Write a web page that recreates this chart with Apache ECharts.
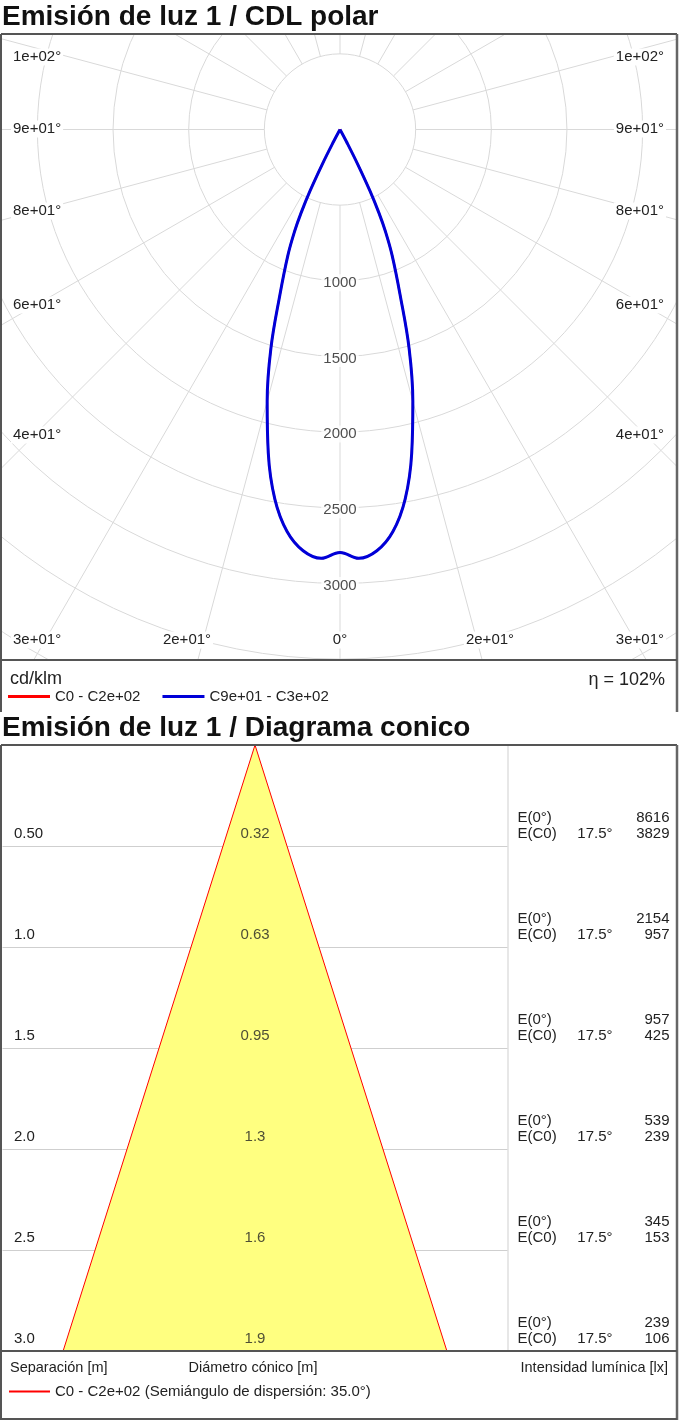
<!DOCTYPE html>
<html><head><meta charset="utf-8">
<script src="https://cdn.jsdelivr.net/npm/echarts@6/dist/echarts.min.js"></script>
<style>
html,body{margin:0;padding:0;background:#fff;}
#top{position:absolute;left:0;top:0;width:679px;height:712px;}
#bot{position:absolute;left:0;top:712px;width:679px;height:710px;}
</style>
</head><body><div id="top"></div><div id="bot"></div>
<script>
// ---------- Polar (CDL) data ----------
const gammaDeg      = [0, 2.5, 5, 7.5, 10, 12.5, 15, 17.5, 20, 22.5, 24, 25, 26, 27, 28, 30];
const intensityC90  = [2795, 2837, 2795, 2680, 2480, 2190, 1860, 1520, 1160, 900, 740, 610, 450, 260, 90, 0];
const intensityC270 = [2795, 2837, 2795, 2680, 2480, 2190, 1860, 1520, 1160, 900, 740, 610, 450, 260, 90, 0];
const intensityC0   = [2795, 2837, 2795, 2680, 2480, 2190, 1860, 1520, 1160, 900, 740, 610, 450, 260, 90, 0];
const intensityC180 = [2795, 2837, 2795, 2680, 2480, 2190, 1860, 1520, 1160, 900, 740, 610, 450, 260, 90, 0];
const radialTickLabels = [1000, 1500, 2000, 2500, 3000];
const seriesNames = ['C0 - C2e+02', 'C9e+01 - C3e+02'];
const unitLabel = 'cd/klm';
const etaLabel = 'η = 102%';

// ---------- Conic diagram data ----------
const distances      = [0.5, 1.0, 1.5, 2.0, 2.5, 3.0];
const distanceLabels = ['0.50', '1.0', '1.5', '2.0', '2.5', '3.0'];
const diameters      = [0.32, 0.63, 0.95, 1.3, 1.6, 1.9];
const diameterLabels = ['0.32', '0.63', '0.95', '1.3', '1.6', '1.9'];
const illumCenter    = [8616, 2154, 957, 539, 345, 239];
const illumC0        = [3829, 957, 425, 239, 153, 106];
const halfAngleText  = '17.5°';
const coneLegend     = 'C0 - C2e+02 (Semiángulo de dispersión: 35.0°)';

const FONT = '"Liberation Sans", Arial, Helvetica, sans-serif';
const GRID_COLOR = '#d9d9d9';
const FRAME = '#555';

function curve(left, right) {
  const pts = [];
  for (let i = right.length - 1; i >= 0; i--) pts.push([right[i], -gammaDeg[i]]);
  for (let i = 1; i < left.length; i++) pts.push([left[i], gammaDeg[i]]);
  return pts;
}

// ================= TOP: polar =================
const topChart = echarts.init(document.getElementById('top'), null, {renderer: 'canvas'});
const CX = 340, CY = 129.5, R_OUT = 680.9, R_IN = 75.65;

function txt(text, x, y, opts) {
  return Object.assign({
    type: 'text', z: 60,
    style: Object.assign({text: text, x: x, y: y, fill: '#222', font: '15px ' + FONT,
      align: 'left', verticalAlign: 'middle'}, opts || {})
  });
}
function line(x1, y1, x2, y2, color, w, z) {
  return {type: 'line', z: z || 60, shape: {x1, y1, x2, y2},
    style: {stroke: color, lineWidth: w}};
}
const angleLabelStyle = {backgroundColor: '#fff', padding: [1, 2]};
const angleLabelsLeft  = ['1e+02°', '9e+01°', '8e+01°', '6e+01°', '4e+01°', '3e+01°'];
const angleLabelsBottom = ['2e+01°', '0°', '2e+01°'];
const angleLabelsRight = ['3e+01°', '4e+01°', '6e+01°', '8e+01°', '9e+01°', '1e+02°'];
const leftY = [57, 129, 211, 305, 435, 640];
const rightY = [640, 435, 305, 211, 129, 57];
const bottomX = [187, 340, 490];

const topGraphics = [
  {type: 'rect', z: 50, shape: {x: 0, y: 0, width: 679, height: 34}, style: {fill: '#fff'}},
  {type: 'rect', z: 50, shape: {x: 0, y: 660, width: 679, height: 60}, style: {fill: '#fff'}},
  {type: 'rect', z: 50, shape: {x: 0, y: 0, width: 1, height: 712}, style: {fill: '#fff'}},
  {type: 'rect', z: 50, shape: {x: 677, y: 0, width: 2, height: 712}, style: {fill: '#fff'}},
  txt('Emisión de luz 1 / CDL polar', 2, 17, {font: 'bold 28px ' + FONT, fill: '#111'}),
  line(1, 34, 677, 34, FRAME, 2),
  line(1, 34, 1, 712, FRAME, 2),
  line(677, 34, 677, 712, '#666', 2.5),
  line(1, 660, 677, 660, FRAME, 2),
  txt(unitLabel, 10, 679, {font: '18px ' + FONT}),
  txt(etaLabel, 665, 680, {font: '18px ' + FONT, align: 'right'})
];
angleLabelsLeft.forEach((t, i) => topGraphics.push(txt(t, 11, leftY[i], Object.assign({z: 55}, angleLabelStyle))));
angleLabelsBottom.forEach((t, i) => topGraphics.push(txt(t, bottomX[i], 640, Object.assign({align: 'center'}, angleLabelStyle))));
angleLabelsRight.forEach((t, i) => topGraphics.push(txt(t, 666, rightY[i], Object.assign({align: 'right'}, angleLabelStyle))));

topChart.setOption({
  animation: false,
  textStyle: {fontFamily: FONT},
  polar: [
    {center: [CX, CY], radius: [R_IN, R_OUT]},
    {center: [CX, CY], radius: [0, R_OUT]}
  ],
  angleAxis: [
    {polarIndex: 0, type: 'value', min: -180, max: 180, interval: 15, startAngle: 90, clockwise: true,
      axisLine: {show: false}, axisTick: {show: false}, axisLabel: {show: false},
      splitLine: {show: true, lineStyle: {color: GRID_COLOR, width: 1}}},
    {polarIndex: 1, type: 'value', min: -180, max: 180, startAngle: 90, clockwise: true,
      axisLine: {show: false}, axisTick: {show: false}, axisLabel: {show: false}, splitLine: {show: false}}
  ],
  radiusAxis: [
    {polarIndex: 0, type: 'value', min: 500, max: 4500, interval: 500,
      axisLine: {show: false}, axisTick: {show: false}, axisLabel: {show: false},
      splitLine: {show: true, lineStyle: {color: GRID_COLOR, width: 1}}},
    {polarIndex: 1, type: 'value', min: 0, max: 4500,
      axisLine: {show: false}, axisTick: {show: false}, axisLabel: {show: false}, splitLine: {show: false}}
  ],
  legend: {
    z: 100, left: 8, top: 689, padding: 0, itemWidth: 42, itemHeight: 3, itemGap: 22, icon: 'rect',
    textStyle: {fontSize: 15, color: '#222', fontFamily: FONT},
    data: seriesNames
  },
  graphic: topGraphics,
  series: [
    {name: seriesNames[0], type: 'line', coordinateSystem: 'polar', polarIndex: 1,
      showSymbol: false, smooth: 0.4, color: '#ff0000',
      lineStyle: {color: '#ff0000', width: 2}, data: curve(intensityC0, intensityC180)},
    {name: seriesNames[1], type: 'line', coordinateSystem: 'polar', polarIndex: 1,
      showSymbol: false, smooth: 0.4, color: '#0000d8',
      lineStyle: {color: '#0000d8', width: 3}, data: curve(intensityC270, intensityC90)},
    {name: 'radial labels', type: 'scatter', coordinateSystem: 'polar', polarIndex: 1,
      symbolSize: 0, silent: true, z: 5,
      data: radialTickLabels.map(r => [r, 0]),
      label: {show: true, position: 'inside', offset: [0, 2], formatter: p => String(p.value[0]),
        fontSize: 15, color: '#222', backgroundColor: '#fff', padding: [1, 2], fontFamily: FONT}}
  ]
});

// ================= BOTTOM: conic diagram =================
const botChart = echarts.init(document.getElementById('bot'), null, {renderer: 'canvas'});
const idxOf = v => distances.findIndex(d => Math.abs(d - v) < 1e-6);
const last = distances.length - 1;
const triX = [0, -diameters[last] / 2, diameters[last] / 2];
const triY = [0, distances[last], distances[last]];

const botGraphics = [
  txt('Emisión de luz 1 / Diagrama conico', 2, 16, {font: 'bold 28px ' + FONT, fill: '#111'}),
  line(508, 33, 508, 639, '#cfcfcf', 1, 40),
  line(1, 33, 677, 33, FRAME, 2),
  line(1, 33, 1, 708, FRAME, 2),
  line(677, 33, 677, 708, '#666', 2.5),
  line(1, 707, 677, 707, FRAME, 2),
  line(1, 639, 677, 639, FRAME, 2),
  txt('Separación [m]', 10, 656, {font: '14.5px ' + FONT}),
  txt('Diámetro cónico [m]', 253, 656, {font: '14.5px ' + FONT, align: 'center'}),
  txt('Intensidad lumínica [lx]', 668, 656, {font: '14.5px ' + FONT, align: 'right'})
];

const richBase = {fontSize: 15, lineHeight: 16, color: '#222', fontFamily: FONT};
botChart.setOption({
  animation: false,
  textStyle: {fontFamily: FONT},
  grid: {left: 2.5, right: 171.5, top: 33, bottom: 71, outerBoundsMode: 'none', containLabel: false},
  xAxis: {type: 'value', min: -1.25, max: 1.25, show: false},
  yAxis: [
    {type: 'value', min: 0, max: 3, interval: 0.5, inverse: true, position: 'left',
      axisLine: {show: false}, axisTick: {show: false},
      splitLine: {show: true, lineStyle: {color: '#cfcfcf', width: 1}},
      axisLabel: {inside: true, margin: 11.5, verticalAlign: 'bottom', padding: [0, 0, 4, 0],
        showMinLabel: true, showMaxLabel: true, fontSize: 15, lineHeight: 17, color: '#222',
        formatter: v => { const i = idxOf(v); return i < 0 ? '' : distanceLabels[i]; }}},
    {type: 'value', min: 0, max: 3, interval: 0.5, inverse: true, position: 'right',
      axisLine: {show: false}, axisTick: {show: false}, splitLine: {show: false},
      axisLabel: {margin: 10, verticalAlign: 'bottom', padding: [0, 0, 4, 0], lineHeight: 16,
        showMinLabel: true, showMaxLabel: true,
        formatter: v => {
          const i = idxOf(v);
          if (i < 0) return '';
          return '{a|E(0°)}{b| }{c|' + illumCenter[i] + '}\n{a|E(C0)}{b|' + halfAngleText + '}{c|' + illumC0[i] + '}';
        },
        rich: {
          a: Object.assign({width: 58, align: 'left'}, richBase),
          b: Object.assign({width: 37, align: 'right'}, richBase),
          c: Object.assign({width: 57, align: 'right'}, richBase)
        }}}
  ],
  legend: {
    left: 9, top: 672, padding: 0, itemWidth: 41, itemHeight: 2, icon: 'rect',
    textStyle: {fontSize: 15, color: '#222', fontFamily: FONT},
    data: [{name: coneLegend, itemStyle: {color: '#ff0000'}}]
  },
  graphic: botGraphics,
  series: [
    {name: coneLegend, type: 'custom', coordinateSystem: 'cartesian2d', xAxisIndex: 0, yAxisIndex: 0,
      itemStyle: {color: '#ff0000'}, data: [[0, 0]], clip: false,
      renderItem: (params, api) => ({
        type: 'polygon',
        shape: {points: triX.map((x, k) => api.coord([x, triY[k]]))},
        style: {fill: '#ffff80', stroke: '#ff0000', lineWidth: 1}
      })},
    {name: 'diameters', type: 'scatter', xAxisIndex: 0, yAxisIndex: 0, symbolSize: 0, silent: true, z: 5,
      data: distances.map(d => [0, d]),
      label: {show: true, position: 'top', distance: 4.5, fontSize: 15, color: '#222', fontFamily: FONT,
        formatter: p => diameterLabels[p.dataIndex]}}
  ]
});
</script>
</body></html>
